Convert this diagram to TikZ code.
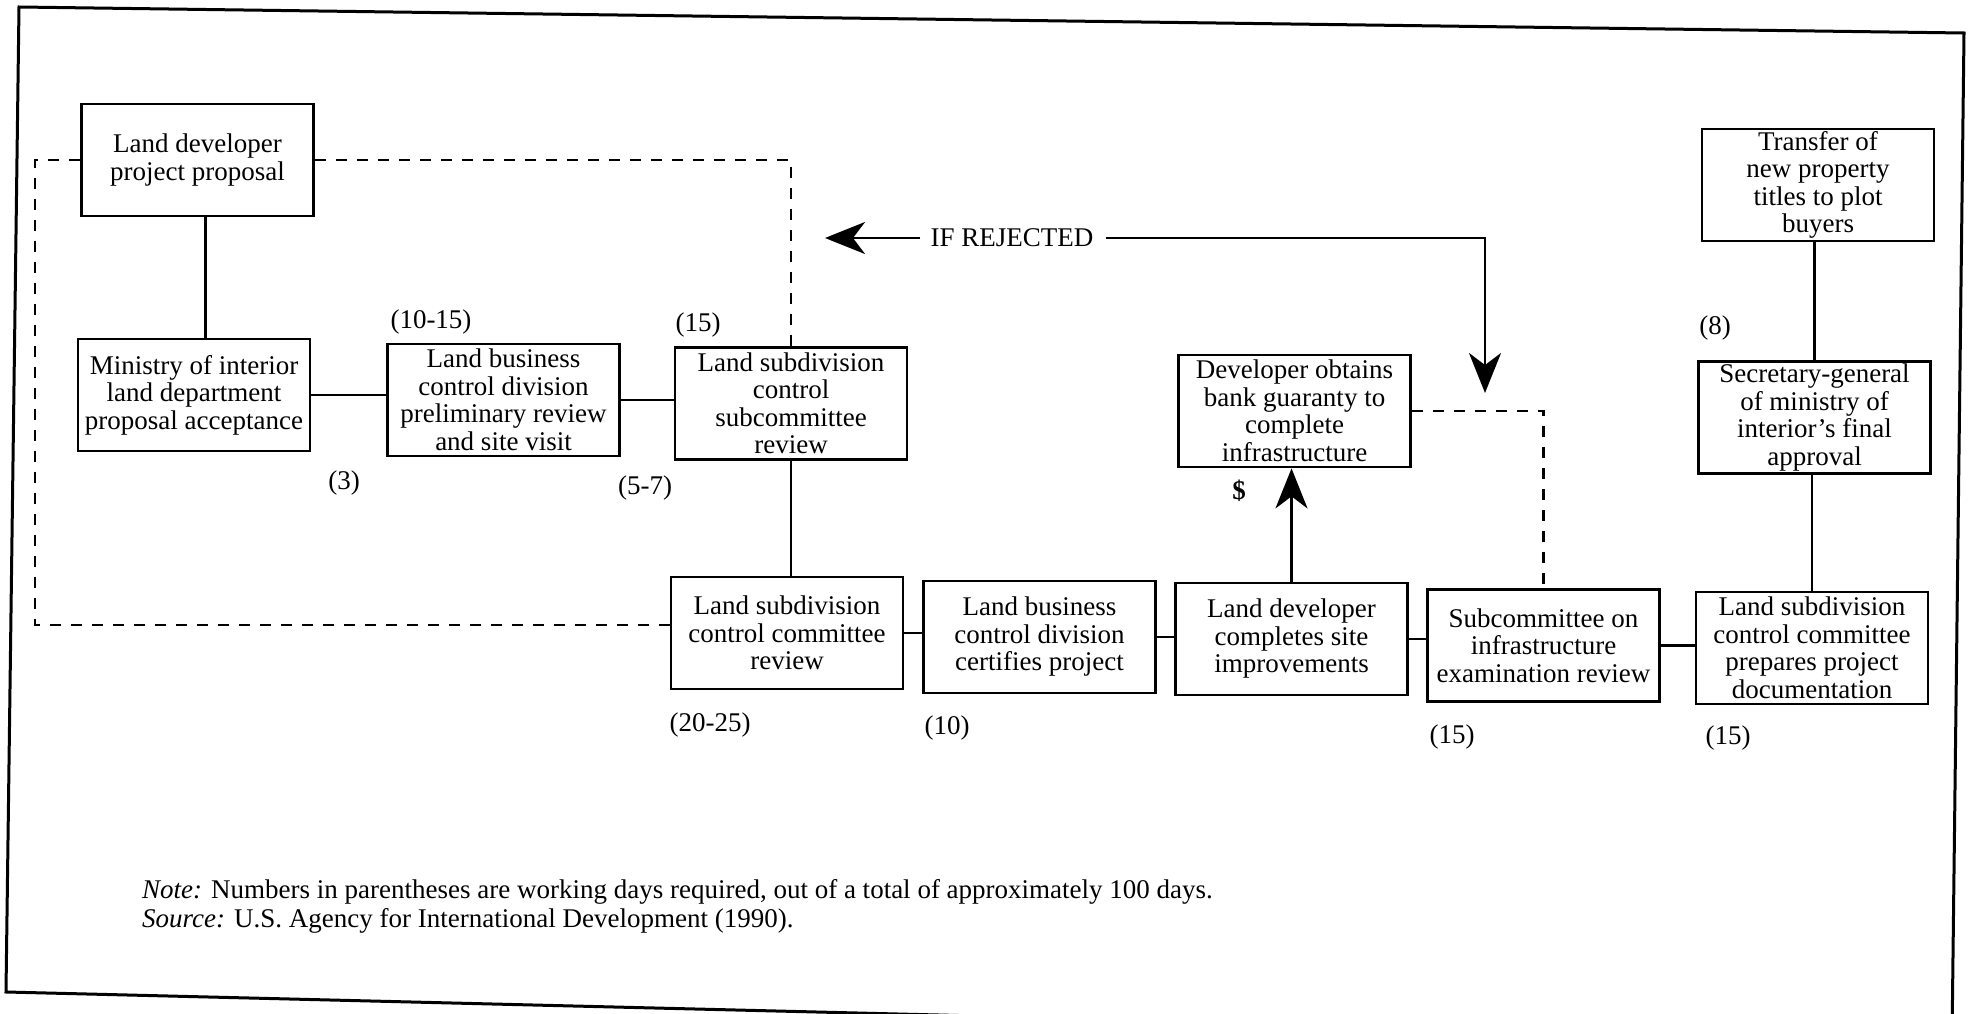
\documentclass[tikz,border=0pt]{standalone}
\usepackage{fontspec}
\setmainfont{Liberation Serif}
\usetikzlibrary{arrows.meta}
\begin{document}
\begin{tikzpicture}[x=1pt,y=-1pt,
  box/.style={draw,line width=2.8pt,minimum width=232pt,minimum height=112pt,align=center,inner sep=1pt,font=\fontsize{27}{27.5}\selectfont},
  lab/.style={font=\fontsize{27}{28}\selectfont,inner sep=0pt},
  conn/.style={line width=2.6pt},
  dsh/.style={line width=2.8pt,dash pattern=on 11pt off 10pt},
  arr/.style={line width=2.6pt,-{Stealth[length=40pt,width=32pt,inset=12pt]}}]
\useasboundingbox (0,0) rectangle (1971,1014);
% frame
\draw[line width=3pt] (19,7) -- (1964,33) -- (1952,1040) -- (6,992) -- cycle;

% boxes
\node[box] (b1) at (197.5,160) {Land developer\\project proposal};
\node[box] (b2) at (194,395) {Ministry of interior\\land department\\proposal acceptance};
\node[box] (b3) at (503.5,400) {Land business\\control division\\preliminary review\\and site visit};
\node[box] (b4) at (791,403.5) {Land subdivision\\control\\subcommittee\\review};
\node[box] (b5) at (1294.5,411) {Developer obtains\\bank guaranty to\\complete\\infrastructure};
\node[box] (b12) at (1818,185) {Transfer of\\new property\\titles to plot\\buyers};
\node[box] (b11) at (1814.5,417.5) {Secretary-general\\of ministry of\\interior's final\\approval};
\node[box] (b6) at (787,633) {Land subdivision\\control committee\\review};
\node[box] (b7) at (1039.5,637) {Land business\\control division\\certifies project};
\node[box] (b8) at (1291.5,639) {Land developer\\completes site\\improvements};
\node[box] (b9) at (1543.5,645.5) {Subcommittee on\\infrastructure\\examination review};
\node[box] (b10) at (1812,648) {Land subdivision\\control committee\\prepares project\\documentation};

% solid connectors
\draw[conn] ([xshift=8pt]b1.south) -- ([xshift=8pt]b1.south |- b2.north);
\draw[conn] (b2.east) -- (b2.east -| b3.west);
\draw[conn] (b3.east) -- (b3.east -| b4.west);
\draw[conn] (b4.south) -- (b4.south |- b6.north);
\draw[conn] (b6.east) -- (b6.east -| b7.west);
\draw[conn] (b7.east) -- (b7.east -| b8.west);
\draw[conn] (b8.east) -- (b8.east -| b9.west);
\draw[conn] (b9.east) -- (b9.east -| b10.west);
\draw[conn] (b10.north) -- (b10.north |- b11.south);
\draw[conn] (b11.north) -- (b11.north |- b12.south);
\draw[arr] (b8.north) -- (b8.north |- b5.south);

% dashed connectors
\coordinate (dl) at (35,0);
\draw[dsh] (b1.west) -- (b1.west -| dl) -- ([yshift=8pt]b6.west -| dl) -- ([yshift=8pt]b6.west);
\draw[dsh] (b1.east) -| (b4.north);
\draw[dsh] (b5.east) -| (b9.north);

% IF REJECTED
\node[lab] (rej) at (1012,238) {IF REJECTED};
\coordinate (tipL) at (825,238);
\coordinate (tipR) at (1485,393);
\draw[arr] ([xshift=-10pt]rej.west) -- (tipL);
\draw[conn,-{Stealth[length=40pt,width=32pt,inset=12pt]}] ([xshift=12pt]rej.east) -| (tipR);

% day labels
\node[lab] (l1) at (431,322) {(10-15)};
\node[lab] (l2) at (698,325) {(15)};
\node[lab] (l3) at (344,483) {(3)};
\node[lab] (l4) at (645,488) {(5-7)};
\node[lab] (l5) at (710,725) {(20-25)};
\node[lab] (l6) at (947,728) {(10)};
\node[lab] (l7) at (1452,737) {(15)};
\node[lab] (l8) at (1728,738) {(15)};
\node[lab] (l9) at (1715,328) {(8)};
\node[lab] (l10) at (1239,491) {\textbf{\$}};

% note
\node[lab,anchor=west] (note) at (142,892) {\textit{Note:} Numbers in parentheses are working days required, out of a total of approximately 100 days.};
\node[lab,anchor=west] (src) at (142,921) {\textit{Source:} U.S. Agency for International Development (1990).};
\end{tikzpicture}
\end{document}
